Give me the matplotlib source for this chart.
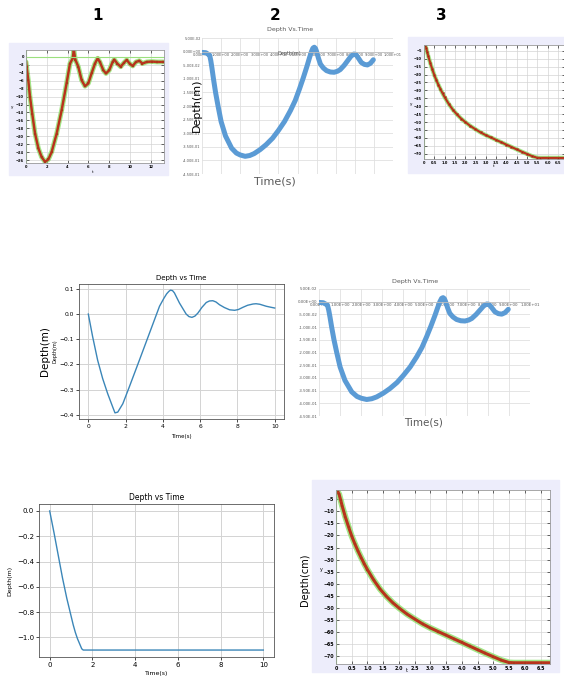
import matplotlib
matplotlib.use("Agg")
import matplotlib.pyplot as plt
from matplotlib.patches import Rectangle

W, H = 564, 681

# panel 1 (matlab style, damped bounce, cm)
t_p1 = [0, 0.06, 0.22, 0.38, 0.6, 0.87, 1.19, 1.5, 1.83, 2.15, 2.47, 2.95, 3.43, 3.9,
        4.23, 4.49, 4.6, 4.74, 5.03, 5.35, 5.67, 5.99, 6.3, 6.63, 6.89, 7.1, 7.44, 7.69,
        8.0, 8.33, 8.49, 8.78, 9.1, 9.42, 9.68, 10.0, 10.26, 10.58, 10.9, 11.2, 11.6,
        12.1, 12.6, 13.2]
y_p1 = [-1.3, -2.5, -5.9, -10, -14.3, -19.3, -23, -25.2, -26.4, -25.8, -23.9, -19.3,
        -13.4, -6.7, -1.7, -0.4, 1.7, -0.7, -2.5, -5.9, -7.4, -6.7, -4.2, -1.7, -0.4,
        -1.3, -3.4, -4.2, -3.4, -1.3, -0.7, -1.7, -2.5, -1.5, -0.8, -1.8, -2.3, -1.3,
        -1.0, -1.7, -1.3, -1.2, -1.3, -1.3]
p1_xticks = [0, 2, 4, 6, 8, 10, 12]
p1_yticks = [0, -2, -4, -6, -8, -10, -12, -14, -16, -18, -20, -22, -24, -26]

# panels 2 and 5 (excel style)
t_xl = [0, 0.2, 0.33, 0.4, 0.46, 0.52, 0.6, 0.71, 0.84, 1.0, 1.23, 1.55, 1.8, 2.0,
        2.26, 2.5, 2.73, 3.05, 3.36, 3.7, 4.0, 4.32, 4.63, 4.88, 5.1, 5.3, 5.5, 5.63,
        5.73, 5.81, 5.88, 5.94, 6.0, 6.1, 6.2, 6.35, 6.52, 6.72, 6.92, 7.1, 7.24, 7.45,
        7.63, 7.8, 7.95, 8.05, 8.2, 8.34, 8.5, 8.66, 8.82, 8.97]
y_xl = [-0.003, -0.004, -0.01, -0.013, -0.033, -0.06, -0.1, -0.15, -0.2, -0.257,
        -0.31, -0.355, -0.373, -0.38, -0.385, -0.382, -0.375, -0.36, -0.342, -0.318,
        -0.29, -0.257, -0.217, -0.18, -0.138, -0.097, -0.053, -0.022, 0.0, 0.013,
        0.016, 0.012, 0.0, -0.025, -0.046, -0.06, -0.07, -0.075, -0.076, -0.072,
        -0.066, -0.05, -0.033, -0.017, -0.009, -0.01, -0.025, -0.04, -0.047, -0.049,
        -0.043, -0.03]
xl_xticks = [0, 1, 2, 3, 4, 5, 6, 7, 8, 9, 10]
xl_yticks = [0.05, 0.0, -0.05, -0.1, -0.15, -0.2, -0.25, -0.3, -0.35, -0.4, -0.45]

# panels 3 and 7 (matlab style, sinking, cm)
t_sink = [0, 0.05, 0.1, 0.15, 0.2, 0.3, 0.4, 0.5, 0.6, 0.7, 0.8, 0.9, 1.0, 1.2, 1.4,
          1.6, 1.8, 2.0, 2.25, 2.5, 2.75, 3.0, 3.25, 3.5, 3.75, 4.0, 4.25, 4.5, 4.75,
          5.0, 5.25, 5.5, 5.65, 6.0, 6.5, 6.85]
y_sink = [-1.5, -1.8, -3, -5.5, -8, -12.5, -16.5, -20.3, -23.5, -26.5, -29.2, -31.8,
          -34.2, -38.5, -42.2, -45.2, -47.8, -50, -52.5, -54.6, -56.6, -58.3, -59.8,
          -61.3, -62.8, -64.3, -65.8, -67.3, -68.8, -70.2, -71.6, -72.6, -72.7, -72.7,
          -72.7, -72.7]
sink_xticks = [0, 0.5, 1.0, 1.5, 2.0, 2.5, 3.0, 3.5, 4.0, 4.5, 5.0, 5.5, 6.0, 6.5]
sink_yticks = [-5, -10, -15, -20, -25, -30, -35, -40, -45, -50, -55, -60, -65, -70]

# panel 4 (matplotlib, damped)
t_p4 = [0, 0.23, 0.5, 0.77, 1.04, 1.31, 1.43, 1.58, 1.85, 2.2, 2.74, 3.28, 3.82, 4.05,
        4.2, 4.32, 4.41, 4.52, 4.62, 4.89, 5.25, 5.4, 5.56, 5.72, 5.88, 6.1, 6.33,
        6.5, 6.68, 6.85, 7.04, 7.3, 7.58, 7.85, 8.05, 8.3, 8.55, 8.84, 9.0, 9.2, 9.55,
        9.8, 10.0]
y_p4 = [0, -0.089, -0.183, -0.256, -0.316, -0.369, -0.392, -0.389, -0.356, -0.289,
        -0.183, -0.076, 0.031, 0.062, 0.08, 0.09, 0.095, 0.093, 0.084, 0.044, 0.0,
        -0.01, -0.013, -0.008, 0.004, 0.027, 0.046, 0.052, 0.053, 0.048, 0.037, 0.026,
        0.017, 0.015, 0.018, 0.027, 0.035, 0.04, 0.041, 0.039, 0.031, 0.027, 0.024]

# panel 6 (matplotlib, sinking)
t_p6 = [0, 0.1, 0.2, 0.3, 0.4, 0.5, 0.6, 0.7, 0.8, 0.9, 1.0, 1.1, 1.2, 1.3, 1.4, 1.5,
        1.57, 3, 5, 7, 10]
y_p6 = [0, -0.085, -0.17, -0.26, -0.35, -0.44, -0.53, -0.61, -0.69, -0.76, -0.83,
        -0.9, -0.96, -1.01, -1.05, -1.09, -1.1, -1.1, -1.1, -1.1, -1.1]


def box(l, t, r, b):
    return [l / W, 1 - b / H, (r - l) / W, (b - t) / H]


def ftext(x, y, s, **kw):
    fig.text(x / W, 1 - y / H, s, **kw)


def lavender(l, t, r, b):
    fig.patches.append(Rectangle((l / W, 1 - b / H), (r - l) / W, (b - t) / H,
                                 transform=fig.transFigure, color="#ededfb", zorder=-5))


def matlab_axes(rect, t, y, xt, yt, xlim, ylim, fs, ms):
    ax = fig.add_axes(rect)
    ax.plot(t, y, color="#8be06a", lw=ms * 2.2, alpha=0.8, solid_capstyle="round")
    ax.plot(t, y, color="#b8321c", lw=ms * 1.1, marker="s", ms=ms,
            mfc="#9a2a14", mec="#c84a2a", mew=0.3)
    ax.axvline(0, color="#7cd35c", lw=0.8)
    ax.set_xlim(*xlim)
    ax.set_ylim(*ylim)
    ax.set_xticks(xt)
    ax.set_yticks(yt)
    ax.set_xticklabels([f"{v:g}" if v == 0 else f"{v:.1f}" for v in xt])
    ax.grid(True, color="#d4d4d4", lw=0.5)
    ax.tick_params(labelsize=fs, direction="in", length=2, width=0.4,
                   top=True, right=True, pad=1.5)
    for lab in ax.get_xticklabels() + ax.get_yticklabels():
        lab.set_fontweight("bold")
    for s in ax.spines.values():
        s.set_color("#999999")
        s.set_linewidth(0.6)
    return ax


def excel_axes(rect, fs):
    ax = fig.add_axes(rect)
    ax.plot(t_xl, y_xl, color="#5b9bd5", lw=3.6, solid_capstyle="round",
            solid_joinstyle="round")
    ax.set_xlim(0, 10)
    ax.set_ylim(-0.45, 0.05)
    ax.set_xticks(xl_xticks)
    ax.set_yticks(xl_yticks)
    ax.set_xticklabels([f"{v:.2E}" for v in xl_xticks])
    ax.set_yticklabels([f"{v:.2E}" if v != 0 else "0.00E+00" for v in xl_yticks])
    ax.grid(True, color="#e0e0e0", lw=0.6)
    ax.tick_params(labelsize=fs, length=0, colors="#595959", pad=1)
    for k in ["top", "right", "left"]:
        ax.spines[k].set_visible(False)
    ax.spines["bottom"].set_position(("data", 0))
    ax.spines["bottom"].set_color("#bfbfbf")
    ax.spines["bottom"].set_linewidth(0.6)
    ax.axhline(-0.45, color="#e0e0e0", lw=0.6)
    return ax


fig = plt.figure(figsize=(W / 100, H / 100), dpi=100)

ftext(98, 15, "1", fontsize=11, fontweight="bold", ha="center", va="center")
ftext(275, 15, "2", fontsize=11, fontweight="bold", ha="center", va="center")
ftext(441, 15, "3", fontsize=11, fontweight="bold", ha="center", va="center")

# panel 1
lavender(9, 43, 168, 175)
ax1 = matlab_axes(box(26, 50, 164, 163), t_p1, y_p1, p1_xticks, p1_yticks,
                  (0, 13.27), (-26.7, 1.7), 2.6, 1.6)
ax1.set_xticklabels([str(v) for v in p1_xticks])
ax1.axhline(0, color="#9be07e", lw=0.8)
ftext(12, 107, "y", fontsize=3, ha="center", va="center")
ftext(93, 172, "t", fontsize=3, ha="center", va="center")

# panel 2
ax2 = excel_axes(box(202, 38, 393, 174), 2.6)
ftext(290, 29, "Depth Vs.Time", fontsize=4.5, color="#595959", ha="center", va="center")
ftext(289, 54, "Depth(m)", fontsize=3.5, color="#595959", ha="center", va="center")
ftext(197, 105, "Depth(m)", fontsize=8, rotation=90, ha="center", va="center")
ftext(275, 181, "Time(s)", fontsize=8, color="#595959", ha="center", va="center")

# panel 3
lavender(408, 37, 564, 173)
ax3 = matlab_axes(box(424, 45, 565, 159), t_sink, y_sink, sink_xticks, sink_yticks,
                  (0, 6.85), (-73.4, -1.3), 2.6, 1.4)
ftext(411, 104, "y", fontsize=3, ha="center", va="center")
ftext(494, 166, "t", fontsize=3, ha="center", va="center")

# panel 4
ax4 = fig.add_axes(box(79, 284, 284, 419))
ax4.plot(t_p4, y_p4, color="#3b86b8", lw=1)
ax4.set_xticks([0, 2, 4, 6, 8, 10])
ax4.set_yticks([0.1, 0.0, -0.1, -0.2, -0.3, -0.4])
ax4.set_title("Depth vs Time", fontsize=5, pad=3)
ax4.set_xlabel("Time(s)", fontsize=4)
ax4.grid(True, color="#d3d3d3", lw=0.7)
ax4.tick_params(labelsize=4.3, length=2, width=0.5, pad=1.5)
for s in ax4.spines.values():
    s.set_linewidth(0.6)
    s.set_color("#555555")
ftext(45, 351, "Depth(m)", fontsize=7.5, rotation=90, ha="center", va="center")
ftext(55, 351, "Depth(m)", fontsize=3.5, rotation=90, ha="center", va="center")

# panel 5
ax5 = excel_axes(box(319, 289, 530, 416), 2.8)
ftext(415, 281, "Depth Vs.Time", fontsize=4.5, color="#595959", ha="center", va="center")
ftext(423, 422, "Time(s)", fontsize=7.5, color="#595959", ha="center", va="center")

# panel 6
ax6 = fig.add_axes(box(39, 504, 274, 657))
ax6.plot(t_p6, y_p6, color="#3b86b8", lw=1)
ax6.set_xticks([0, 2, 4, 6, 8, 10])
ax6.set_title("Depth vs Time", fontsize=5.5, pad=3)
ax6.set_xlabel("Time(s)", fontsize=4.5, labelpad=2)
ax6.set_ylabel("Depth(m)", fontsize=4.5, labelpad=3)
ax6.grid(True, color="#d3d3d3", lw=0.7)
ax6.tick_params(labelsize=5, length=2, width=0.5, pad=1.5)
for s in ax6.spines.values():
    s.set_linewidth(0.6)
    s.set_color("#555555")

# panel 7
lavender(312, 480, 559, 672)
ax7 = matlab_axes(box(336, 490, 550, 664), t_sink, y_sink, sink_xticks, sink_yticks,
                  (0, 6.8), (-73.2, -1.2), 3.4, 2.0)
ftext(305, 580, "Depth(cm)", fontsize=7, rotation=90, ha="center", va="center")
ftext(321, 570, "y", fontsize=3.5, ha="center", va="center")
ftext(407, 670, "t", fontsize=3.5, ha="center", va="center")

fig.savefig("out.png", dpi=100)
